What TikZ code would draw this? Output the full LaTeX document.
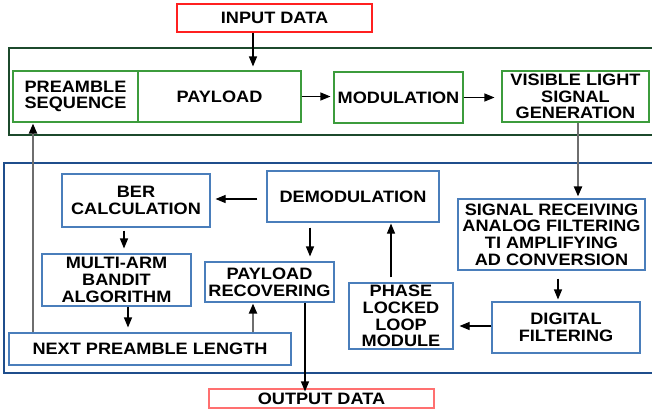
\documentclass[tikz,border=0pt]{standalone}
\usepackage{fontspec}
\setmainfont[FakeStretch=1.1]{Liberation Sans}
\usepackage{tikz}
\usetikzlibrary{arrows.meta,positioning}
\definecolor{boxgreen}{HTML}{3C9C3C}
\definecolor{framegreen}{HTML}{1C4A2C}
\definecolor{boxblue}{HTML}{4A7EBB}
\definecolor{frameblue}{HTML}{1F4E8C}
\definecolor{boxred}{HTML}{FF2020}
\definecolor{lightred}{HTML}{FF7070}
\definecolor{linegray}{HTML}{6E6E6E}
\tikzset{
    block/.style={
    rectangle,inner sep=0pt,align=center,line width=1.1pt,
    font=\fontsize{16.5}{16.7}\selectfont\bfseries
    },
    greenblock/.style={
    block,draw=boxgreen
    },
    blueblock/.style={
    block,draw=boxblue
    },
    redblock/.style={
    block,draw=boxred
    },
    frame/.style={
    line width=2.4pt
    },
    flow/.style={
    ->,line width=1.1pt,draw=black
    },
    grayflow/.style={
    -{Triangle[length=10pt,width=8pt,color=black]},line width=2pt,draw=linegray
    },
}

\begin{document}
\begin{tikzpicture}[x=1pt, y=-1pt, >={Triangle[length=10pt,width=8pt]}]
  \useasboundingbox (0,0) rectangle (652,410);
  % frames
  \draw[frame,framegreen] (9,48) rectangle (660,135);
  \draw[frame,frameblue] (4,163) rectangle (660,373);

  % transmitter
  \node[redblock, minimum width=195, minimum height=28] (input) at (274.5,18) {INPUT DATA};
  \node[greenblock, minimum width=125, minimum height=51] (preamble) at (75.5,96.5) {PREAMBLE\\SEQUENCE};
  \node[greenblock, minimum width=163, minimum height=51] (payload) at (219.5,96.5) {PAYLOAD};
  \node[greenblock, minimum width=129, minimum height=51] (modulation) at (398.5,97.5) {MODULATION};
  \node[greenblock, minimum width=147, minimum height=51] (vlsg) at (575.5,96.5) {VISIBLE LIGHT\\SIGNAL\\GENERATION};

  % receiver
  \node[blueblock, minimum width=148, minimum height=53] (ber) at (136,200.5) {BER\\CALCULATION};
  \node[blueblock, minimum width=172, minimum height=51] (demod) at (353,196.5) {DEMODULATION};
  \node[blueblock, minimum width=149, minimum height=52] (mab) at (116.5,280) {MULTI-ARM\\BANDIT\\ALGORITHM};
  \node[blueblock, minimum width=129, minimum height=40] (payrec) at (269.5,282) {PAYLOAD\\RECOVERING};
  \node[blueblock, minimum width=282, minimum height=32] (npl) at (150,349) {NEXT PREAMBLE LENGTH};
  \node[blueblock, minimum width=187, minimum height=71] (sigrx) at (551.5,234.5) {SIGNAL RECEIVING\\ANALOG FILTERING\\TI AMPLIFYING\\AD CONVERSION};
  \node[blueblock, minimum width=148, minimum height=51] (digital) at (566,327.5) {DIGITAL\\FILTERING};
  \node[blueblock, minimum width=104, minimum height=66] (pll) at (401,316) {PHASE\\LOCKED\\LOOP\\MODULE};
  \node[block, draw=lightred, minimum width=225, minimum height=19] (output) at (321.5,398.5) {OUTPUT DATA};

  % connections
  \draw[flow, shorten >=4pt] ([xshift=-21.5pt]input.south) -- ([xshift=33.5pt]payload.north);
  \draw[flow, shorten >=3pt] (payload.east) -- (modulation.west |- payload.east);
  \draw[flow, shorten >=7pt] (modulation.east) -- (vlsg.west |- modulation.east);
  \draw[grayflow, shorten >=2pt] ([xshift=2.5pt]vlsg.south) -- ([xshift=26.5pt]sigrx.north);
  \draw[flow, shorten <=9pt, shorten >=5pt] ([yshift=-2.5pt]demod.west) -- ([yshift=1.5pt]ber.east);
  \draw[flow, shorten <=3pt, shorten >=5pt] ([xshift=-12pt]ber.south) -- ([xshift=7.5pt]mab.north);
  \draw[flow, shorten <=5pt, shorten >=5pt] ([xshift=-43pt]demod.south) -- ([xshift=40.5pt]payrec.north);
  \draw[flow, shorten >=5pt] ([xshift=11.5pt]mab.south) -- ([xshift=-22pt]npl.north);
  \draw[grayflow, shorten >=1pt] ([xshift=103pt]npl.north) -- ([xshift=-16.5pt]payrec.south);
  \draw[grayflow, shorten >=1pt] ([xshift=-117pt]npl.north) -- ([xshift=-42.5pt]preamble.south);
  \draw[flow, shorten >=-3pt] ([xshift=35.5pt]payrec.south) -- ([xshift=-16.5pt]output.north);
  \draw[flow, shorten <=8pt, shorten >=2pt] ([xshift=6.5pt]sigrx.south) -- ([xshift=-8pt]digital.north);
  \draw[flow, shorten >=6pt] ([yshift=1.5pt]digital.west) -- ([yshift=-10pt]pll.east);
  \draw[flow, shorten <=5pt, shorten >=1pt] ([xshift=-10pt]pll.north) -- ([xshift=38pt]demod.south);
\end{tikzpicture}
\end{document}
